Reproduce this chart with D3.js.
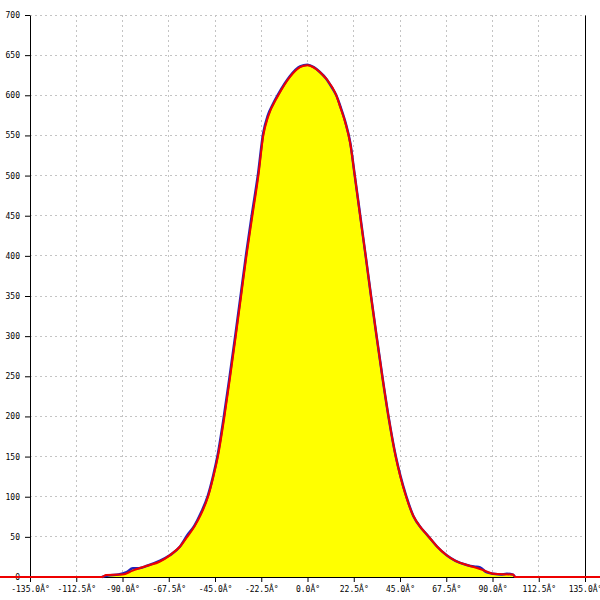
<!DOCTYPE html>
<html><head><meta charset="utf-8">
<script src="https://cdn.jsdelivr.net/npm/d3@7"></script>
<style>body{margin:0;background:#fff}svg{display:block}</style>
</head><body>
<svg id="c" width="600" height="600"></svg>
<script>
// Tick labels
const xTicks = [-135, -112.5, -90, -67.5, -45, -22.5, 0, 22.5, 45, 67.5, 90, 112.5, 135];
const yTicks = [0, 50, 100, 150, 200, 250, 300, 350, 400, 450, 500, 550, 600, 650, 700];

// Measured data (blue)
const dataAngles = [-100, -97, -92, -88, -85, -82, -78, -72, -67, -62, -58.5, -55, -52, -48.5, -45.9, -43.7, -40.5, -37.7, -35, -32.4, -29.8, -26.9, -24, -21.6, -19.3, -17, -14.3, -11, -8.5, -3.6, 0, 3, 6, 9, 11.8, 14, 16, 18.5, 20.8, 23.0, 25.6, 28.3, 30.9, 33.6, 36.4, 39.4, 42.9, 45.2, 48.0, 51.5, 55, 57, 60, 63, 67.7, 72, 77.5, 81, 84, 87, 90.4, 94, 97, 100, 101];
const dataCounts = [0, 2, 3, 6, 11, 11, 14, 20, 27, 38, 52, 64, 79, 101, 126, 152, 203, 253, 303, 353, 403, 454, 503, 552, 575, 588, 601, 615, 624, 636, 638, 635, 629, 621, 610, 600, 586, 566, 541, 500, 451, 400, 350, 300, 250, 200, 151, 126, 101, 76, 62, 56, 47, 38, 27, 20, 15, 13, 12, 6, 4, 3, 4, 3, 0];

// Fitted curve (red)
const fitAngles = [-150, -100, -98, -90, -85, -78, -72, -67, -62, -58.5, -55, -52, -48.4, -45.8, -43.6, -40.4, -37.6, -34.9, -32.3, -29.7, -26.8, -23.9, -21.5, -19.2, -14.2, -8.5, -3.6, 0, 6, 11.8, 14, 16, 18.5, 20.8, 23.0, 25.6, 28.3, 30.9, 33.6, 36.4, 39.4, 42.9, 45.2, 48.0, 51.5, 55, 57, 60, 63, 67.7, 72, 77.5, 83.9, 88, 90.4, 100, 101, 150];
const fitCounts = [0, 0, 2.5, 3, 8, 14, 19, 27, 38, 50, 63, 77, 100, 125, 150, 200, 250, 300, 350, 400, 450, 500, 550, 573, 600, 623, 635, 637.5, 629, 611, 600, 585, 565, 540, 500, 450, 400, 350, 300, 250, 200, 150, 125, 100, 76, 62, 56, 47, 38, 27, 20, 15, 10, 6, 4, 3, 0, 0];

const data = dataAngles.map((a, i) => ({a, v: dataCounts[i]}));
const fit = fitAngles.map((a, i) => ({a, v: fitCounts[i]}));

const svg = d3.select("#c");
svg.append("rect").attr("width", 600).attr("height", 600).attr("fill", "#fff");

const x = d3.scaleLinear().domain([-135, 135]).range([30, 585]);
const y = d3.scaleLinear().domain([0, 700]).range([577, 15]);

const font = "'DejaVu Sans Mono', monospace";

// grid
const g = svg.append("g");
g.selectAll("line.vx").data(xTicks).join("line")
  .attr("x1", d => x(d)).attr("x2", d => x(d)).attr("y1", y(700)).attr("y2", y(0))
  .attr("stroke", "#c4c4c4").attr("stroke-dasharray", "2,3").attr("shape-rendering", "crispEdges");
g.selectAll("line.hy").data(yTicks).join("line")
  .attr("x1", x(-135)).attr("x2", x(135)).attr("y1", d => y(d)).attr("y2", d => y(d))
  .attr("stroke", "#c4c4c4").attr("stroke-dasharray", "2,3").attr("shape-rendering", "crispEdges");

// area fill
svg.append("path").datum(data)
  .attr("d", d3.area().x(d => x(d.a)).y0(y(0)).y1(d => y(d.v)).curve(d3.curveMonotoneX))
  .attr("fill", "#ffff00");

// axes
const yAxis = d3.axisLeft(y).tickValues(yTicks).tickSize(5).tickSizeOuter(0).tickFormat(d3.format("d"));
const ya = svg.append("g").attr("transform", `translate(${x(-135)},0)`).call(yAxis);
ya.select(".domain").attr("stroke", "#000");
ya.selectAll("text").attr("font-family", font).attr("font-size", 8).attr("fill", "#000").attr("x", -10);

const yb = svg.append("g").attr("transform", `translate(${x(135)},0)`)
  .call(d3.axisRight(y).tickValues([]).tickSizeOuter(0));
yb.select(".domain").attr("stroke", "#000");

const xAxis = d3.axisBottom(x).tickValues(xTicks).tickSize(5).tickSizeOuter(0)
  .tickFormat(d => d.toFixed(1) + "Â°");
const xa = svg.append("g").attr("transform", `translate(0,${y(0)})`).call(xAxis);
xa.select(".domain").attr("stroke", "#000");
xa.selectAll("text").attr("font-family", font).attr("font-size", 8).attr("fill", "#000").attr("dy", "0.9em");

// lines
svg.append("path").datum(data)
  .attr("d", d3.line().x(d => x(d.a)).y(d => y(d.v)).curve(d3.curveMonotoneX))
  .attr("fill", "none").attr("stroke", "#2222bb").attr("stroke-width", 2.5).attr("stroke-linejoin", "round");
svg.append("path").datum(fit)
  .attr("d", d3.line().x(d => x(d.a)).y(d => y(d.v)).curve(d3.curveMonotoneX))
  .attr("fill", "none").attr("stroke", "#ee0000").attr("stroke-width", 2).attr("stroke-linejoin", "round");
</script>
</body></html>
